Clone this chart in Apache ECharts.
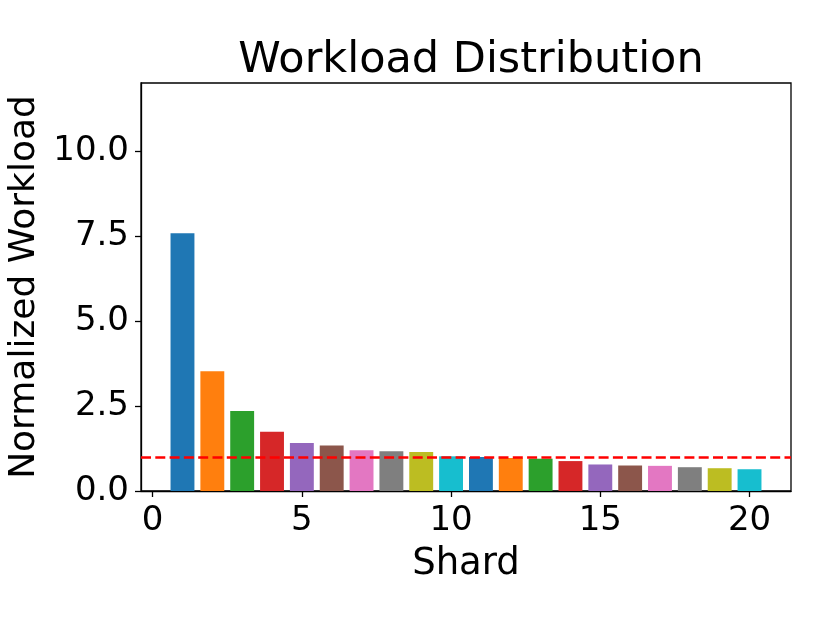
<!DOCTYPE html>
<html>
<head>
<meta charset="utf-8">
<script src="https://cdn.jsdelivr.net/npm/echarts@6/dist/echarts.min.js"></script>
<style>
  html, body { margin: 0; padding: 0; background: #fff; }
  #chart { width: 830px; height: 623px; }
</style>
</head>
<body>
<div id="chart"></div>
<script>
var shards = [1, 2, 3, 4, 5, 6, 7, 8, 9, 10, 11, 12, 13, 14, 15, 16, 17, 18, 19, 20];
var workload = [7.58, 3.52, 2.35, 1.74, 1.41, 1.34, 1.20, 1.17, 1.15, 1.02,
                1.00, 0.97, 0.95, 0.88, 0.78, 0.75, 0.74, 0.70, 0.67, 0.64];
var average = 1.0;
var xTicks = [0, 5, 10, 15, 20];
var yTicks = [0, 2.5, 5, 7.5, 10];
var tab10 = ['#1f77b4', '#ff7f0e', '#2ca02c', '#d62728', '#9467bd',
             '#8c564b', '#e377c2', '#7f7f7f', '#bcbd22', '#17becf'];

var font = 'DejaVu Sans';
var chart = echarts.init(document.getElementById('chart'));
chart.setOption({
  animation: false,
  color: tab10,
  title: {
    text: 'Workload Distribution',
    left: 466,
    textAlign: 'center',
    top: 34,
    textStyle: { fontFamily: font, fontSize: 43, fontWeight: 'normal', color: '#000' }
  },
  grid: {
    left: 141, right: 39, top: 83, bottom: 132,
    outerBoundsMode: 'none',
    containLabel: false,
    show: true, borderColor: '#000', borderWidth: 1.3, backgroundColor: 'transparent'
  },
  xAxis: {
    type: 'value',
    min: -0.39,
    max: 21.39,
    name: 'Shard',
    nameLocation: 'middle',
    nameGap: 55,
    nameTextStyle: { fontFamily: font, fontSize: 37, color: '#000' },
    axisLine: { show: true, onZero: false, lineStyle: { color: '#000', width: 1.3 } },
    axisTick: { show: true, length: 6, customValues: xTicks, lineStyle: { color: '#000', width: 1.3 } },
    axisLabel: { customValues: xTicks, margin: 13, fontFamily: font, fontSize: 34, color: '#000' },
    splitLine: { show: false }
  },
  yAxis: {
    type: 'value',
    min: 0,
    max: 12,
    name: 'Normalized Workload',
    nameLocation: 'middle',
    nameGap: 97,
    nameTextStyle: { fontFamily: font, fontSize: 36, color: '#000' },
    axisLine: { show: true, onZero: false, lineStyle: { color: '#000', width: 1.3 } },
    axisTick: { show: true, length: 6, customValues: yTicks, lineStyle: { color: '#000', width: 1.3 } },
    axisLabel: {
      customValues: yTicks, margin: 12, fontFamily: font, fontSize: 34, color: '#000',
      formatter: function (v) { return v.toFixed(1); }
    },
    splitLine: { show: false }
  },
  series: [{
    type: 'bar',
    colorBy: 'data',
    barWidth: 23.9,
    data: shards.map(function (s, i) { return [s, workload[i]]; }),
    markLine: {
      silent: true,
      symbol: 'none',
      label: { show: false },
      lineStyle: { color: '#ff0000', type: [10, 4.3], width: 2.7 },
      data: [{ yAxis: average }]
    }
  }]
});
</script>
</body>
</html>
